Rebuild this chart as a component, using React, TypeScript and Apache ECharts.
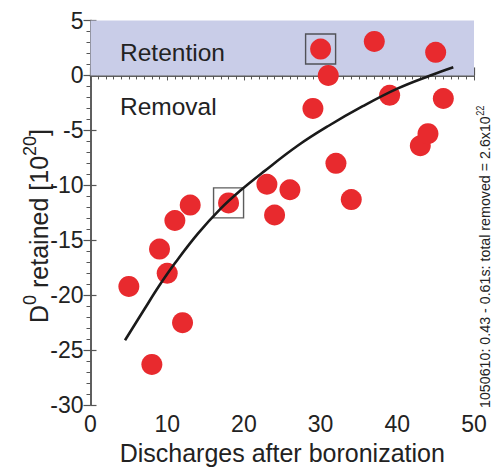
import React, { useEffect, useRef } from "react";
import * as echarts from "echarts";

const dischargeNums = [5, 8, 9, 10, 11, 12, 13, 18, 23, 24, 26, 29, 30, 31, 32, 34, 37, 39, 43, 44, 45, 46];
const retainedVals = [-19.2, -26.3, -15.8, -18.0, -13.2, -22.5, -11.8, -11.6, -9.9, -12.7, -10.4, -3.0, 2.4, 0.0, -8.0, -11.3, 3.1, -1.8, -6.4, -5.3, 2.1, -2.1];
const fitX = [4.5, 7, 9, 11, 14, 17, 19.5, 22.5, 27, 31, 35.5, 40, 44.3, 47.3];
const fitY = [-24.1, -21.3, -19.1, -17.1, -14.4, -12.1, -10.5, -8.8, -6.4, -4.6, -2.8, -1.2, 0.0, 0.75];
const boxedX = [18, 30];
const boxedY = [-11.6, 2.4];
const bandRange = [0, 5];
const xTicks = { min: 0, max: 50, interval: 10 };
const yTicks = { min: -30, max: 5, interval: 5 };

const FONT = "'Liberation Sans', Arial, Helvetica, sans-serif";

export default function App() {
  const ref = useRef<HTMLDivElement>(null);
  useEffect(() => {
    if (!ref.current) return;
    const chart = echarts.init(ref.current, undefined, { renderer: "svg" });
    const axisLine = { show: true, lineStyle: { color: "#555", width: 1.5 } };
    const option: any = {
      animation: false,
      backgroundColor: "#fff",
      textStyle: { fontFamily: FONT },
      grid: { left: 90.5, top: 20.5, right: 22, bottom: 56 },
      xAxis: [
        {
          type: "value",
          position: "bottom",
          min: xTicks.min,
          max: xTicks.max,
          interval: xTicks.interval,
          axisLine,
          axisTick: { show: true, inside: true, length: 8, lineStyle: { color: "#555", width: 1.2 } },
          minorTick: { show: true, splitNumber: 10, length: 4, lineStyle: { color: "#555", width: 1 } },
          splitLine: { show: false },
          axisLabel: { color: "#222", fontSize: 23, margin: 7, fontFamily: FONT },
          name: "Discharges after boronization",
          nameLocation: "middle",
          nameGap: 33,
          nameTextStyle: { color: "#222", fontSize: 25, fontFamily: FONT },
        },
        {
          type: "value",
          position: "top",
          min: xTicks.min,
          max: xTicks.max,
          interval: xTicks.interval,
          axisLine,
          axisTick: { show: true, inside: true, length: 5, lineStyle: { color: "#555", width: 1 } },
          minorTick: { show: true, splitNumber: 10, length: 4, lineStyle: { color: "#555", width: 1 } },
          splitLine: { show: false },
          axisLabel: { show: false },
        },
      ],
      yAxis: [
        {
          type: "value",
          position: "left",
          min: yTicks.min,
          max: yTicks.max,
          interval: yTicks.interval,
          axisLine,
          axisTick: { show: true, inside: true, length: 6, lineStyle: { color: "#555", width: 1.2 } },
          splitLine: { show: false },
          axisLabel: { color: "#222", fontSize: 23, margin: 7, fontFamily: FONT },
        },
        {
          type: "value",
          position: "right",
          min: yTicks.min,
          max: yTicks.max,
          interval: yTicks.interval,
          axisLine,
          axisTick: { show: true, inside: true, length: 7, lineStyle: { color: "#555", width: 1.2 } },
          minorTick: { show: true, splitNumber: 5, length: 4, lineStyle: { color: "#555", width: 1 } },
          splitLine: { show: false },
          axisLabel: { show: false },
        },
      ],
      graphic: [
        {
          type: "text",
          x: 120,
          y: 52,
          z: 100,
          silent: true,
          style: { text: "Retention", fill: "#222", font: `24.5px ${FONT}`, textAlign: "left", textVerticalAlign: "middle" },
        },
        {
          type: "text",
          x: 120,
          y: 106,
          z: 100,
          silent: true,
          style: { text: "Removal", fill: "#222", font: `24.5px ${FONT}`, textAlign: "left", textVerticalAlign: "middle" },
        },
        {
          type: "text",
          x: 36,
          y: 226,
          z: 100,
          rotation: Math.PI / 2,
          silent: true,
          style: {
            text: "{a|D}{s|0}{a| retained [10}{s|20}{a|]}",
            textAlign: "center",
            textVerticalAlign: "middle",
            fill: "#222",
            rich: {
              a: { fontSize: 25, fontFamily: FONT, color: "#222", lineHeight: 30, verticalAlign: "bottom" },
              s: { fontSize: 18, fontFamily: FONT, color: "#222", lineHeight: 30, verticalAlign: "top" },
            },
          },
        },
        {
          type: "text",
          x: 484,
          y: 408,
          z: 100,
          rotation: Math.PI / 2,
          scaleX: 0.92,
          silent: true,
          style: {
            text: "{a|1050610: 0.43 - 0.61s: total removed = 2.6x10}{s|22}",
            textAlign: "left",
            textVerticalAlign: "middle",
            fill: "#222",
            rich: {
              a: { fontSize: 15.5, fontFamily: FONT, color: "#222", lineHeight: 18, verticalAlign: "bottom" },
              s: { fontSize: 10, fontFamily: FONT, color: "#222", lineHeight: 18, verticalAlign: "top" },
            },
          },
        },
      ],
      series: [
        {
          type: "scatter",
          xAxisIndex: 0,
          yAxisIndex: 0,
          symbol: "circle",
          symbolSize: 21,
          itemStyle: { color: "#e82a2e", opacity: 1 },
          data: dischargeNums.map((x, i) => [x, retainedVals[i]]),
          z: 3,
          markArea: {
            silent: true,
            itemStyle: { color: "#c9cde8", opacity: 1 },
            data: [[{ yAxis: bandRange[0] }, { yAxis: bandRange[1] }]],
          },
        },
        {
          type: "scatter",
          xAxisIndex: 0,
          yAxisIndex: 0,
          symbol: "rect",
          symbolSize: 30,
          itemStyle: { color: "rgba(0,0,0,0)", borderColor: "#333", borderWidth: 1.4 },
          data: boxedX.map((x, i) => [x, boxedY[i]]),
          z: 2,
        },
        {
          type: "line",
          xAxisIndex: 0,
          yAxisIndex: 0,
          smooth: 0.4,
          showSymbol: false,
          lineStyle: { color: "#1a1a1a", width: 2.6 },
          data: fitX.map((x, i) => [x, fitY[i]]),
          z: 4,
        },
      ],
    };
    chart.setOption(option);
    return () => chart.dispose();
  }, []);
  return <div ref={ref} style={{ width: 496, height: 470, position: "absolute", left: 0, top: 0 }} />;
}
